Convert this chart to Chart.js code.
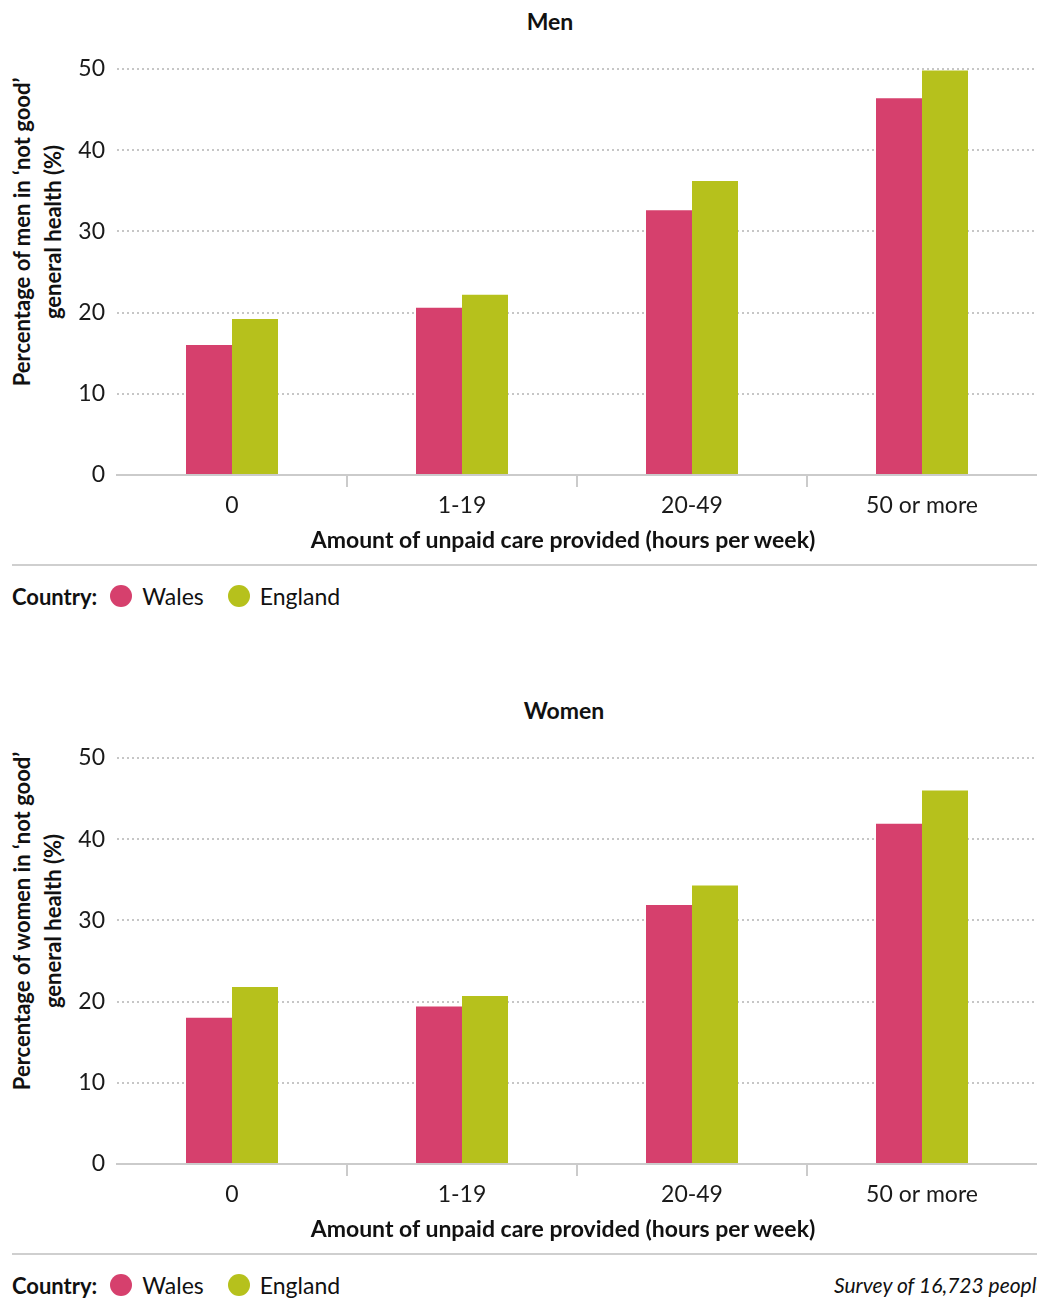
<!DOCTYPE html>
<html>
<head>
<meta charset="utf-8">
<script src="https://cdn.jsdelivr.net/npm/chart.js@4.4.1/dist/chart.umd.min.js"></script>
<style>
  body { margin: 0; background: #fff; width: 1037px; height: 1300px; overflow: hidden; position: relative;
         font-family: Lato, "Noto Sans", sans-serif; color: #111; }
  .panel { position: absolute; left: 0; width: 1037px; height: 640px; }
  .panel canvas { position: absolute; left: 0; top: 0; }
  .ptitle { position: absolute; top: 7px; font-weight: bold; font-size: 23px; transform: translateX(-50%); white-space: nowrap; }
  .ytitle { position: absolute; width: 400px; height: 62px; left: -163px; top: 201px; transform: rotate(-90deg);
            text-align: center; font-weight: bold; font-size: 22px; line-height: 31px; }
  .xtitle { position: absolute; top: 525px; left: 563px; transform: translateX(-50%); font-weight: bold; font-size: 23px; white-space: nowrap; }
  .sep { position: absolute; top: 564px; left: 12px; right: 0; height: 2px; background: #cfcfcf; }
  .legend { position: absolute; top: 582px; left: 12px; display: flex; align-items: center; font-size: 23px; white-space: nowrap; }
  .legend b { margin-right: 13px; font-size: 22px; }
  .dot { width: 22px; height: 22px; border-radius: 50%; display: inline-block; margin-right: 10px; }
  .legend span.lab { margin-right: 24px; }
  .note { position: absolute; top: 1272px; left: 834px; font-size: 21px; font-style: italic; white-space: nowrap; }
</style>
</head>
<body>
<div id="men" class="panel" style="top:0px"></div>
<div id="women" class="panel" style="top:689px"></div>
<div class="note">Survey of 16,723 people</div>

<script>
// categorias y valores
const categorias = ['0', '1-19', '20-49', '50 or more'];
const paises = ['Wales', 'England'];
const colores = ['#d6406d', '#b6c11c'];

const hombresWales = [16.0, 20.6, 32.6, 46.4];
const hombresEngland = [19.2, 22.2, 36.2, 49.8];
const mujeresWales = [18.0, 19.4, 31.9, 41.9];
const mujeresEngland = [21.8, 20.7, 34.3, 46.0];

const yMin = 0;
const yMax = 50;
const yPaso = 10;

const xTitulo = 'Amount of unpaid care provided (hours per week)';

function armarPanel(id, titulo, tituloX, yTitulo, wales, england) {
    const panel = document.getElementById(id);
    panel.innerHTML = `
        <div class="ptitle" style="left:${tituloX}px">${titulo}</div>
        <div class="ytitle">${yTitulo[0]}<br>${yTitulo[1]}</div>
        <canvas width="1037" height="530"></canvas>
        <div class="xtitle">${xTitulo}</div>
        <div class="sep"></div>
        <div class="legend"><b>Country:</b>
            <span class="dot" style="background:${colores[0]}"></span><span class="lab">${paises[0]}</span>
            <span class="dot" style="background:${colores[1]}"></span><span class="lab">${paises[1]}</span>
        </div>`;

    const ctx = panel.querySelector('canvas').getContext('2d');

    new Chart(ctx, {
        type: 'bar',
        data: {
            labels: categorias,
            datasets: [
                { label: paises[0], data: wales, backgroundColor: colores[0] },
                { label: paises[1], data: england, backgroundColor: colores[1] }
            ]
        },
        options: {
            responsive: false,
            animation: false,
            layout: { padding: { top: 69, left: 0, right: 0, bottom: 0 } },
            datasets: { bar: { categoryPercentage: 0.4, barPercentage: 1.0, borderWidth: 0 } },
            plugins: { legend: { display: false }, tooltip: { enabled: false } },
            scales: {
                x: {
                    afterFit: s => { s.height = 55; },
                    border: { display: true, color: '#cbcbcb', width: 2 },
                    grid: {
                        offset: true,
                        drawOnChartArea: false,
                        drawTicks: true,
                        tickLength: 12,
                        lineWidth: 2,
                        // solo las marcas entre categorias
                        color: c => (c.index >= 1 && c.index <= 3) ? '#cbcbcb' : 'transparent'
                    },
                    ticks: { color: '#1a1a1a', font: { family: 'Lato', size: 23 }, padding: 5 }
                },
                y: {
                    min: yMin,
                    max: yMax,
                    afterFit: s => { s.width = 117; },
                    // en v4 el punteado de la rejilla va en border.dash
                    border: { display: false, dash: [2, 3] },
                    grid: {
                        drawTicks: false,
                        lineWidth: 2,
                        color: c => c.tick && c.tick.value === 0 ? 'transparent' : '#c6c6c6'
                    },
                    ticks: { stepSize: yPaso, color: '#1a1a1a', font: { family: 'Lato', size: 23 }, padding: 12 }
                }
            }
        }
    });
}

armarPanel('men', 'Men', 550, ['Percentage of men in \u2018not good\u2019', 'general health (%)'], hombresWales, hombresEngland);
armarPanel('women', 'Women', 564, ['Percentage of women in \u2018not good\u2019', 'general health (%)'], mujeresWales, mujeresEngland);
</script>
</body>
</html>
